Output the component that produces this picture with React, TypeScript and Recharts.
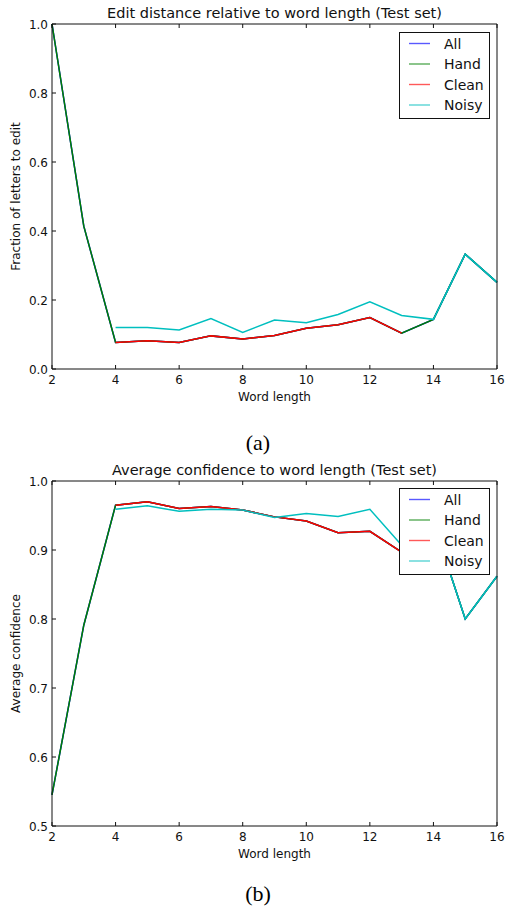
import React from 'react';
import { LineChart, Line, XAxis, YAxis, Legend, Label } from 'recharts';

const wordLengths = [2, 3, 4, 5, 6, 7, 8, 9, 10, 11, 12, 13, 14, 15, 16];

const editAll = [1.0, 0.414, 0.077, 0.082, 0.077, 0.096, 0.087, 0.097, 0.118, 0.128, 0.149, 0.104, 0.144, 0.333, 0.251];
const editHand = [1.0, 0.414, 0.077, 0.082, 0.077, 0.096, 0.087, 0.097, 0.118, 0.128, 0.149, 0.104, 0.144, 0.333, 0.251];
const editClean = [null, null, 0.077, 0.082, 0.077, 0.096, 0.087, 0.097, 0.118, 0.128, 0.149, 0.104, null, null, null];
const editNoisy = [null, null, 0.12, 0.12, 0.113, 0.146, 0.106, 0.142, 0.134, 0.158, 0.195, 0.155, 0.144, 0.333, 0.251];

const confAll = [0.545, 0.791, 0.965, 0.97, 0.96, 0.963, 0.958, 0.948, 0.942, 0.925, 0.927, 0.897, 0.94, 0.8, 0.862];
const confHand = [0.545, 0.791, 0.965, 0.97, 0.96, 0.963, 0.958, 0.948, 0.942, 0.925, 0.927, 0.897, 0.94, 0.8, 0.862];
const confClean = [null, null, 0.965, 0.97, 0.96, 0.963, 0.958, 0.948, 0.942, 0.925, 0.927, 0.897, null, null, null];
const confNoisy = [null, null, 0.959, 0.964, 0.956, 0.959, 0.958, 0.947, 0.953, 0.9485, 0.959, 0.907, 0.94, 0.8, 0.862];

const xTicks = [2, 4, 6, 8, 10, 12, 14, 16];
const editTicks = [0, 0.2, 0.4, 0.6, 0.8, 1.0];
const confTicks = [0.5, 0.6, 0.7, 0.8, 0.9, 1.0];

const seriesNames = ['All', 'Hand', 'Clean', 'Noisy'];
const seriesKeys = ['all', 'hand', 'clean', 'noisy'];
const seriesColors = ['#0000ff', '#008000', '#ff0000', '#00bfbf'];

const editData = wordLengths.map((w, i) => ({ w, all: editAll[i], hand: editHand[i], clean: editClean[i], noisy: editNoisy[i] }));
const confData = wordLengths.map((w, i) => ({ w, all: confAll[i], hand: confHand[i], clean: confClean[i], noisy: confNoisy[i] }));

const FONT = '"DejaVu Sans", sans-serif';
const AXIS_COLOR = '#111';
const TEXT_COLOR = '#111';

const BottomTick = (props: any) => {
  const { x, y, payload } = props;
  return (
    <g>
      <line x1={x} x2={x} y1={y} y2={y - 4} stroke={AXIS_COLOR} strokeWidth={1} />
      <text x={x} y={y + 15} textAnchor="middle" fontSize={12} fontFamily={FONT} fill={TEXT_COLOR}>{String(payload.value)}</text>
    </g>
  );
};

const TopTick = (props: any) => {
  const { x, y } = props;
  return <line x1={x} x2={x} y1={y} y2={y + 4} stroke={AXIS_COLOR} strokeWidth={1} />;
};

const LeftTick = (props: any) => {
  const { x, y, payload } = props;
  return (
    <g>
      <line x1={x} x2={x + 4} y1={y} y2={y} stroke={AXIS_COLOR} strokeWidth={1} />
      <text x={x - 4} y={y + 4.5} textAnchor="end" fontSize={12} fontFamily={FONT} fill={TEXT_COLOR}>{Number(payload.value).toFixed(1)}</text>
    </g>
  );
};

const RightTick = (props: any) => {
  const { x, y } = props;
  return <line x1={x} x2={x - 4} y1={y} y2={y} stroke={AXIS_COLOR} strokeWidth={1} />;
};

const TitleLabel = (props: any) => {
  const { viewBox, text } = props;
  const cx = viewBox.x + viewBox.width / 2;
  return (
    <text x={cx} y={viewBox.y - 5} textAnchor="middle" fontSize={14.5} fontFamily={FONT} fill={TEXT_COLOR}>{text}</text>
  );
};

const XLabel = (props: any) => {
  const { viewBox, text } = props;
  const cx = viewBox.x + viewBox.width / 2;
  return (
    <text x={cx} y={viewBox.y + 32} textAnchor="middle" fontSize={12} fontFamily={FONT} fill={TEXT_COLOR}>{text}</text>
  );
};

const YLabel = (props: any) => {
  const { viewBox, text } = props;
  const cy = viewBox.y + viewBox.height / 2;
  const cx = 20;
  return (
    <text x={cx} y={cy} transform={`rotate(-90, ${cx}, ${cy})`} textAnchor="middle" fontSize={12} fontFamily={FONT} fill={TEXT_COLOR}>{text}</text>
  );
};

const LegendBox = () => {
  const rows = [11.5, 32, 52.5, 73];
  return (
    <svg width={92} height={88} style={{ display: 'block' }}>
      <rect x={0.5} y={0.5} width={90} height={86} fill="#fff" stroke={AXIS_COLOR} strokeWidth={1} />
      {seriesNames.map((n, i) => (
        <g key={n}>
          <line x1={10} x2={31} y1={rows[i]} y2={rows[i]} stroke={seriesColors[i]} strokeWidth={1.4} strokeOpacity={0.65} />
          <text x={45} y={rows[i] + 5} fontSize={14} fontFamily={FONT} fill={TEXT_COLOR}>{n}</text>
        </g>
      ))}
    </svg>
  );
};

type PanelProps = {
  data: any[];
  yDomain: [number, number];
  yTicks: number[];
  title: string;
  yLabel: string;
  top: number;
  marginTop: number;
  xAxisHeight: number;
};

const Panel = ({ data, yDomain, yTicks, title, yLabel, top, marginTop, xAxisHeight }: PanelProps) => (
  <div style={{ position: 'absolute', left: 0, top }}>
    <LineChart width={506} height={420} data={data} margin={{ top: marginTop, right: 8, bottom: 0, left: 0 }}>
      <XAxis
        dataKey="w"
        type="number"
        domain={[2, 16]}
        ticks={xTicks}
        xAxisId={0}
        height={xAxisHeight}
        tickSize={0}
        tickMargin={0}
        tick={<BottomTick />}
        axisLine={{ stroke: AXIS_COLOR, strokeWidth: 1 }}
        tickLine={false}
        interval={0}
      >
        <Label content={<XLabel text="Word length" />} />
      </XAxis>
      <XAxis
        dataKey="w"
        type="number"
        domain={[2, 16]}
        ticks={xTicks}
        xAxisId="top"
        orientation="top"
        height={1}
        tickSize={0}
        tickMargin={0}
        tick={<TopTick />}
        axisLine={{ stroke: AXIS_COLOR, strokeWidth: 1 }}
        tickLine={false}
        interval={0}
      >
        <Label content={<TitleLabel text={title} />} />
      </XAxis>
      <YAxis
        yAxisId={0}
        type="number"
        domain={yDomain}
        ticks={yTicks}
        width={52}
        tickSize={0}
        tickMargin={0}
        tick={<LeftTick />}
        axisLine={{ stroke: AXIS_COLOR, strokeWidth: 1 }}
        tickLine={false}
        interval={0}
      >
        <Label content={<YLabel text={yLabel} />} />
      </YAxis>
      <YAxis
        yAxisId="right"
        orientation="right"
        type="number"
        domain={yDomain}
        ticks={yTicks}
        width={1}
        tickSize={0}
        tickMargin={0}
        tick={<RightTick />}
        axisLine={{ stroke: AXIS_COLOR, strokeWidth: 1 }}
        tickLine={false}
        interval={0}
      />
      {seriesKeys.map((k, i) => (
        <Line
          key={k}
          dataKey={k}
          name={seriesNames[i]}
          stroke={seriesColors[i]}
          strokeWidth={1.5}
          dot={false}
          activeDot={false}
          isAnimationActive={false}
          xAxisId={0}
          yAxisId={0}
        />
      ))}
      <Legend
        layout="horizontal"
        align="center"
        verticalAlign="middle"
        content={<LegendBox />}
        wrapperStyle={{ position: 'absolute', left: 399, top: 32, width: 92, height: 88 }}
      />
    </LineChart>
  </div>
);

export default function App() {
  return (
    <div style={{ position: 'absolute', left: 0, top: 0, width: 506, height: 909, background: '#fff' }}>
      <Panel
        data={editData}
        yDomain={[0, 1]}
        yTicks={editTicks}
        title="Edit distance relative to word length (Test set)"
        yLabel="Fraction of letters to edit"
        top={0}
        marginTop={23}
        xAxisHeight={51}
      />
      <div style={{ position: 'absolute', left: 0, width: 516, top: 430, textAlign: 'center', fontFamily: '"Liberation Serif", "Times New Roman", serif', fontSize: 22, lineHeight: '26px' }}>(a)</div>
      <Panel
        data={confData}
        yDomain={[0.5, 1]}
        yTicks={confTicks}
        title="Average confidence to word length (Test set)"
        yLabel="Average confidence"
        top={456}
        marginTop={24}
        xAxisHeight={50}
      />
      <div style={{ position: 'absolute', left: 0, width: 516, top: 881, textAlign: 'center', fontFamily: '"Liberation Serif", "Times New Roman", serif', fontSize: 22, lineHeight: '26px' }}>(b)</div>
    </div>
  );
}
